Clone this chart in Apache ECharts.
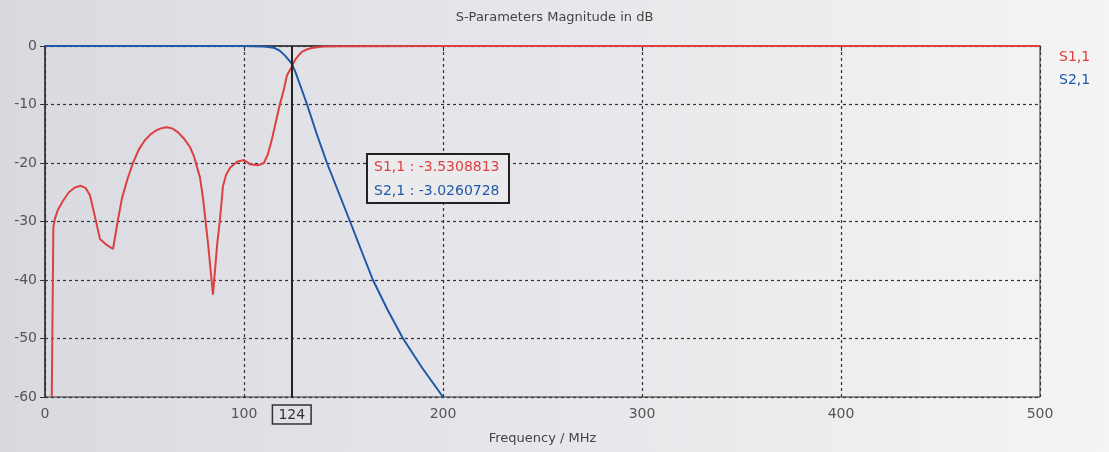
<!DOCTYPE html>
<html>
<head>
<meta charset="utf-8">
<title>S-Parameters Magnitude in dB</title>
<script src="https://cdn.jsdelivr.net/npm/echarts@6.0.0/dist/echarts.min.js"></script>
<style>
  html, body { margin: 0; padding: 0; }
  #chartLineBox { width: 1109px; height: 452px; }
</style>
</head>
<body>
<div id="chartLineBox"></div>
<script>
// axis ticks
var freqTicks = [0, 100, 200, 300, 400, 500];   // MHz
var dbTicks = [-60, -50, -40, -30, -20, -10, 0];  // dB

// S1,1  [MHz, dB]
var s11 = [
  [3.4, -60], [4.2, -31], [5, -29.5], [6.5, -28], [9, -26.5], [12, -25], [15, -24.2],
  [18, -23.9], [20.5, -24.3], [22.6, -25.5], [25, -29], [27.6, -33], [31, -34], [34.2, -34.7],
  [36.5, -30], [38.7, -26], [41.5, -22.7], [44.2, -20], [47, -17.8], [50, -16.2], [53, -15.1],
  [56, -14.4], [59, -14], [61.3, -13.9], [64, -14.1], [67, -14.8], [70, -15.9], [72.9, -17.3],
  [75, -19], [77.9, -22.5], [79.4, -26], [82, -34], [84.4, -42.5], [86.5, -34], [87.9, -29.7],
  [88.9, -26], [89.4, -24], [91, -22], [93, -20.8], [96.5, -19.8], [100, -19.5], [103, -20.2],
  [107, -20.4], [110, -20], [112, -18.5], [114, -16], [116, -13], [118, -10], [120, -7.5],
  [121.6, -5], [124, -3.5308813], [126, -2.2], [129, -1], [131.5, -0.6], [134.7, -0.3],
  [140, -0.1], [150, -0.05], [200, 0], [300, 0], [400, 0], [500, 0]
];

// S2,1  [MHz, dB]
var s21 = [
  [0, 0], [25, 0], [50, 0], [75, 0], [100, 0], [110, -0.1], [115, -0.3], [118, -0.8],
  [120.5, -1.6], [122, -2.2], [124, -3.0260728], [126, -4.6], [128, -6.5], [131.7, -10],
  [136.5, -15], [141.7, -20], [147.5, -25], [153.3, -30], [159, -35], [164.8, -40],
  [172, -45], [179.9, -50], [189.5, -55], [200, -60]
];

// marker
var cursorFreq = 124;
var cursorS11 = '-3.5308813';
var cursorS21 = '-3.0260728';

var red = '#dc4040';
var blue = '#1f5aa8';
var fontName = 'DejaVu Sans';

var chart = echarts.init(document.getElementById('chartLineBox'));
var option = {
  animation: false,
  backgroundColor: {   // scanned page: greyer at the left
    type: 'linear', x: 0, y: 0, x2: 1, y2: 0,
    colorStops: [
      { offset: 0, color: '#d9dae0' },
      { offset: 0.5, color: '#e7e7eb' },
      { offset: 1, color: '#f4f4f4' }
    ]
  },
  textStyle: { fontFamily: fontName },
  title: [
    {
      text: 'S-Parameters Magnitude in dB',
      left: 'center',
      top: 6,
      textStyle: { fontSize: 13, fontWeight: 'normal', color: '#444', fontFamily: fontName }
    },
    {   // readout box for the marker
      text: '{a|S1,1 : ' + cursorS11 + '}\n{b|S2,1 : ' + cursorS21 + '}',
      left: 367,
      top: 149,
      padding: [6, 10, 5, 7],
      borderColor: '#222',
      borderWidth: 2,
      backgroundColor: '#ebebee',
      textStyle: {
        fontWeight: 'normal',
        rich: {
          a: { color: red, fontSize: 14, lineHeight: 24, fontFamily: fontName },
          b: { color: blue, fontSize: 14, lineHeight: 24, fontFamily: fontName }
        }
      }
    }
  ],
  legend: {
    orient: 'vertical',
    left: 1049,
    top: 45,
    icon: 'none',
    itemWidth: 0,
    itemGap: 9,
    selectedMode: false,
    textStyle: { fontSize: 14, fontFamily: fontName },
    data: [
      { name: 'S1,1', textStyle: { color: red } },
      { name: 'S2,1', textStyle: { color: blue } }
    ]
  },
  grid: {
    left: 45,
    right: 69,
    top: 46,
    bottom: 55,
    show: true,
    borderColor: '#333',
    borderWidth: 1
  },
  xAxis: {
    type: 'value',
    min: freqTicks[0],
    max: freqTicks[freqTicks.length - 1],
    interval: 100,
    name: 'Frequency / MHz',
    nameLocation: 'middle',
    nameGap: 35,
    nameTextStyle: { color: '#444', fontSize: 13, fontFamily: fontName },
    axisLine: { show: true, lineStyle: { color: '#333', width: 1.5 } },
    axisTick: { show: true, length: 5, lineStyle: { color: '#333' } },
    axisLabel: { color: '#555', fontSize: 14, margin: 10, fontFamily: fontName },
    splitLine: { show: true, lineStyle: { color: '#333', type: [3, 3], width: 1.2 } }
  },
  yAxis: {
    type: 'value',
    min: dbTicks[0],
    max: dbTicks[dbTicks.length - 1],
    interval: 10,
    axisLine: { show: true, lineStyle: { color: '#333', width: 1.5 } },
    axisTick: { show: true, length: 5, lineStyle: { color: '#333' } },
    axisLabel: { color: '#555', fontSize: 14, margin: 8, fontFamily: fontName },
    splitLine: { show: true, lineStyle: { color: '#333', type: [3, 3], width: 1.2 } }
  },
  series: [
    {
      name: 'S1,1',
      type: 'line',
      data: s11,
      showSymbol: false,
      lineStyle: { color: red, width: 2 },
      itemStyle: { color: red }
    },
    {
      name: 'S2,1',
      type: 'line',
      data: s21,
      showSymbol: false,
      lineStyle: { color: blue, width: 2 },
      itemStyle: { color: blue },
      markLine: {   // marker line at 124 MHz
        silent: true,
        symbol: ['none', 'none'],
        lineStyle: { color: '#222', width: 2, type: 'solid' },
        label: {
          show: true,
          position: 'start',
          distance: 8,
          formatter: String(cursorFreq),
          color: '#333',
          fontSize: 14,
          fontFamily: fontName,
          borderColor: '#333',
          borderWidth: 1.5,
          padding: [3, 6, 2, 6]
        },
        data: [{ xAxis: cursorFreq }]
      }
    }
  ]
};
chart.setOption(option);
</script>
</body>
</html>
